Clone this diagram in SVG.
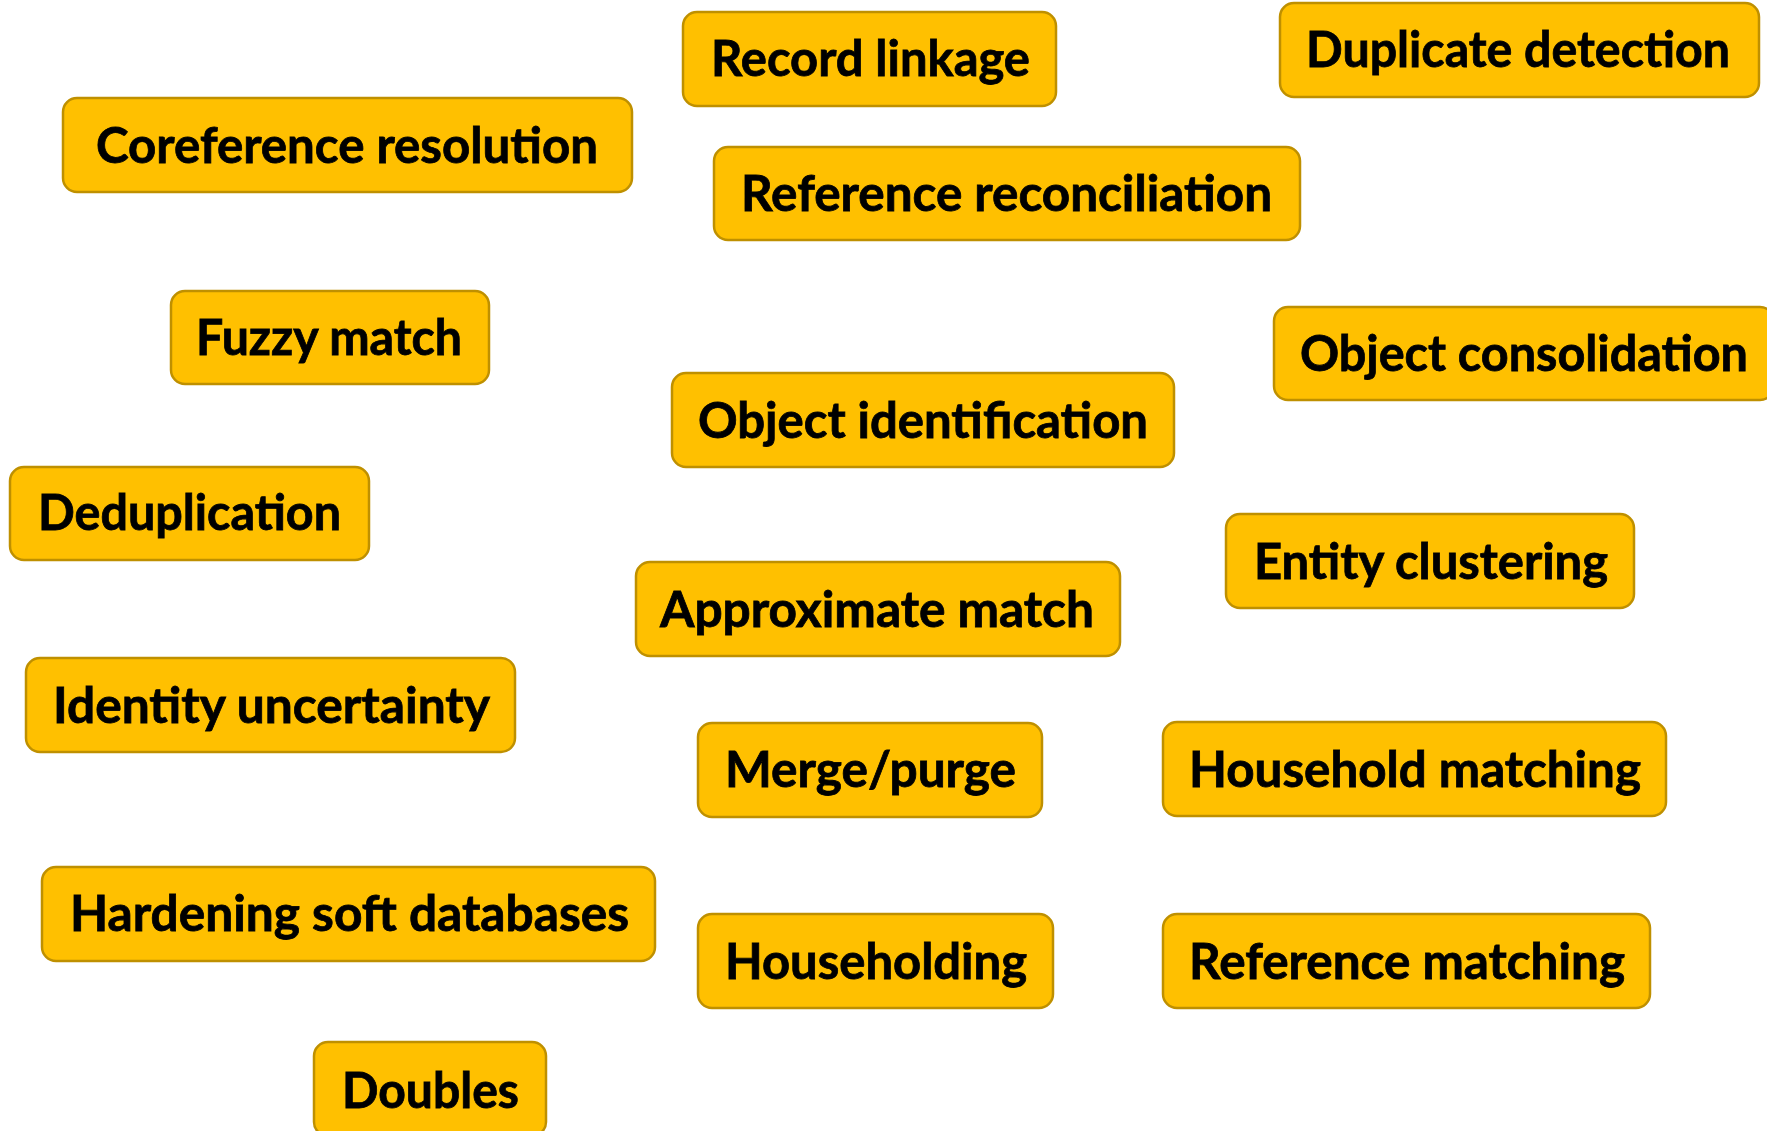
<svg xmlns="http://www.w3.org/2000/svg" width="1767" height="1131" viewBox="0 0 1767 1131">
<style>
.box{fill:#FFC000;stroke:#BF9000;stroke-width:2.5}
.lbl{font-family:Lato,"Open Sans","Liberation Sans",sans-serif;font-weight:bold;font-size:50px;fill:#000;stroke:#000;stroke-width:0.8}
</style>
<rect width="1767" height="1131" fill="#fff"/>
<g id="connectors"/>
<g id="record-linkage"><rect class="box" x="683" y="12" width="373" height="94" rx="14"/><text class="lbl" x="711" y="76" textLength="319" lengthAdjust="spacingAndGlyphs">Record linkage</text></g>
<g id="duplicate-detection"><rect class="box" x="1280" y="3" width="479" height="94" rx="14"/><text class="lbl" x="1306" y="67" textLength="424" lengthAdjust="spacingAndGlyphs">Duplicate detection</text></g>
<g id="coreference-resolution"><rect class="box" x="63" y="98" width="569" height="94" rx="14"/><text class="lbl" x="96" y="163" textLength="502" lengthAdjust="spacingAndGlyphs">Coreference resolution</text></g>
<g id="reference-reconciliation"><rect class="box" x="714" y="147" width="586" height="93" rx="14"/><text class="lbl" x="741" y="211" textLength="531" lengthAdjust="spacingAndGlyphs">Reference reconciliation</text></g>
<g id="fuzzy-match"><rect class="box" x="171" y="291" width="318" height="93" rx="14"/><text class="lbl" x="196" y="355" textLength="266" lengthAdjust="spacingAndGlyphs">Fuzzy match</text></g>
<g id="object-consolidation"><rect class="box" x="1274" y="307" width="500" height="93" rx="14"/><text class="lbl" x="1300" y="371" textLength="448" lengthAdjust="spacingAndGlyphs">Object consolidation</text></g>
<g id="object-identification"><rect class="box" x="672" y="373" width="502" height="94" rx="14"/><text class="lbl" x="698" y="438" textLength="450" lengthAdjust="spacingAndGlyphs">Object identification</text></g>
<g id="deduplication"><rect class="box" x="10" y="467" width="359" height="93" rx="14"/><text class="lbl" x="38" y="530" textLength="303" lengthAdjust="spacingAndGlyphs">Deduplication</text></g>
<g id="entity-clustering"><rect class="box" x="1226" y="514" width="408" height="94" rx="14"/><text class="lbl" x="1254" y="579" textLength="354" lengthAdjust="spacingAndGlyphs">Entity clustering</text></g>
<g id="approximate-match"><rect class="box" x="636" y="562" width="484" height="94" rx="14"/><text class="lbl" x="660" y="627" textLength="434" lengthAdjust="spacingAndGlyphs">Approximate match</text></g>
<g id="identity-uncertainty"><rect class="box" x="26" y="658" width="489" height="94" rx="14"/><text class="lbl" x="53" y="723" textLength="437" lengthAdjust="spacingAndGlyphs">Identity uncertainty</text></g>
<g id="merge-purge"><rect class="box" x="698" y="723" width="344" height="94" rx="14"/><text class="lbl" x="725" y="787" textLength="291" lengthAdjust="spacingAndGlyphs">Merge/purge</text></g>
<g id="household-matching"><rect class="box" x="1163" y="722" width="503" height="94" rx="14"/><text class="lbl" x="1189" y="787" textLength="452" lengthAdjust="spacingAndGlyphs">Household matching</text></g>
<g id="hardening-soft-databases"><rect class="box" x="42" y="867" width="613" height="94" rx="14"/><text class="lbl" x="70" y="931" textLength="559" lengthAdjust="spacingAndGlyphs">Hardening soft databases</text></g>
<g id="householding"><rect class="box" x="698" y="914" width="355" height="94" rx="14"/><text class="lbl" x="725" y="979" textLength="302" lengthAdjust="spacingAndGlyphs">Householding</text></g>
<g id="reference-matching"><rect class="box" x="1163" y="914" width="487" height="94" rx="14"/><text class="lbl" x="1189" y="979" textLength="436" lengthAdjust="spacingAndGlyphs">Reference matching</text></g>
<g id="doubles"><rect class="box" x="314" y="1042" width="232" height="94" rx="14"/><text class="lbl" x="342" y="1108" textLength="177" lengthAdjust="spacingAndGlyphs">Doubles</text></g>
</svg>
